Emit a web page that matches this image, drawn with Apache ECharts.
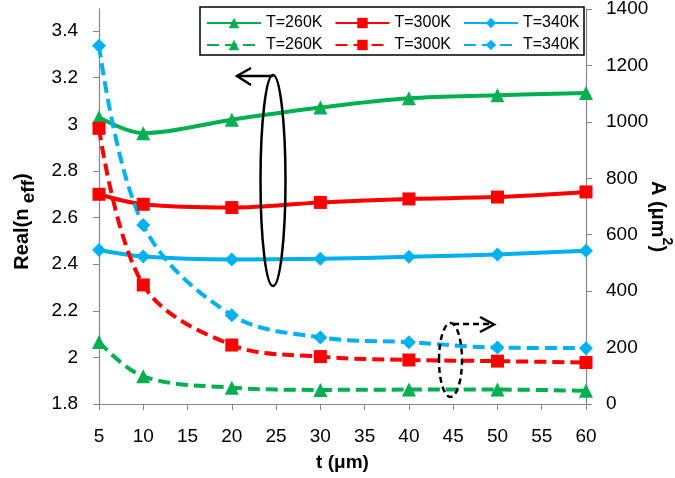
<!DOCTYPE html>
<html>
<head>
<meta charset="utf-8">
<script src="https://cdn.jsdelivr.net/npm/echarts@6/dist/echarts.min.js"></script>
<style>html,body{margin:0;padding:0;background:#fff;}#c{width:675px;height:478px;}</style>
</head>
<body>
<div id="c"></div>
<script>
// ---- data ----
const tValues = [5, 10, 20, 30, 40, 50, 60];
const tempLabels = ['T=260K', 'T=300K', 'T=340K'];
const nEff260 = [3.03, 2.962, 3.02, 3.072, 3.112, 3.125, 3.135];
const nEff300 = [2.70, 2.657, 2.643, 2.665, 2.68, 2.688, 2.71];
const nEff340 = [2.461, 2.433, 2.42, 2.423, 2.432, 2.442, 2.458];
const area260 = [220, 98, 58, 50, 51, 51, 47];
const area300 = [977, 422, 209, 168, 156, 152, 147];
const area340 = [1270, 634, 315, 236, 219, 200, 198];
const leftTicks = [1.8, 2, 2.2, 2.4, 2.6, 2.8, 3, 3.2, 3.4];
const xTickStep = 5;
const rightTickStep = 200;

const FONT = 'Liberation Sans';
const colors = ['#00B050', '#FF0000', '#00B0F0'];
const symbols = ['triangle', 'rect', 'diamond'];
const symSizes = [14, 13, 14];

function pairs(vals) { return tValues.map((t, i) => [t, vals[i]]); }

const nSets = [nEff260, nEff300, nEff340];
const aSets = [area260, area300, area340];

const series = [];
nSets.forEach((v, i) => {
  series.push({
    name: 'n ' + tempLabels[i], type: 'line', yAxisIndex: 0, data: pairs(v),
    smooth: 0.35, symbol: symbols[i], symbolSize: symSizes[i],
    lineStyle: { color: colors[i], width: 4 }, itemStyle: { color: colors[i] }
  });
});
aSets.forEach((v, i) => {
  series.push({
    name: 'A ' + tempLabels[i], type: 'line', yAxisIndex: 1, data: pairs(v),
    smooth: 0.35, symbol: symbols[i], symbolSize: symSizes[i],
    lineStyle: { color: colors[i], width: 4, type: [12, 6] }, itemStyle: { color: colors[i] }
  });
});

const axisLineStyle = { lineStyle: { color: '#868686', width: 1.2 } };
const tickLbl = { fontFamily: FONT, fontSize: 19, color: '#000' };
const legendCommon = {
  padding: 0, itemWidth: 54, itemHeight: 13, itemGap: 12,
  textStyle: { fontFamily: FONT, fontSize: 16, color: '#000' },
  formatter: name => name.slice(2), selectedMode: false
};

const chart = echarts.init(document.getElementById('c'), null, { renderer: 'canvas' });
chart.setOption({
  animation: false,
  backgroundColor: '#fff',
  grid: { left: 99, right: 89, top: 9, bottom: 74, containLabel: false, outerBoundsMode: 'none' },
  legend: [
    Object.assign({ left: 206, top: 15, data: tempLabels.map(t => 'n ' + t) }, legendCommon),
    Object.assign({ left: 206, top: 37, data: tempLabels.map(t => 'A ' + t) }, legendCommon)
  ],
  xAxis: {
    type: 'value', min: 5, max: 60, interval: xTickStep,
    axisLine: axisLineStyle, splitLine: { show: false },
    axisTick: { show: true, length: 6, lineStyle: { color: '#868686' } },
    axisLabel: Object.assign({ margin: 23 }, tickLbl),
    name: 't (μm)', nameLocation: 'middle', nameGap: 49, nameMoveOverlap: false,
    nameTextStyle: { fontFamily: FONT, fontSize: 19, fontWeight: 'bold', color: '#000' }
  },
  yAxis: [
    {
      type: 'value', min: 1.8, max: 3.495, position: 'left',
      axisLine: Object.assign({ show: true }, axisLineStyle), splitLine: { show: false },
      axisTick: { show: true, length: 6, lineStyle: { color: '#868686' }, customValues: leftTicks },
      axisLabel: Object.assign({ margin: 21, customValues: leftTicks, formatter: v => String(+v.toFixed(1)) }, tickLbl),
      name: '{m|Real(n}{s| eff}{e|)}', nameLocation: 'middle', nameRotate: 90, nameGap: 64, nameMoveOverlap: false,
      nameTextStyle: {
        rich: {
          m: { fontFamily: FONT, fontSize: 20, fontWeight: 'bold', color: '#000', lineHeight: 23, verticalAlign: 'top' },
          s: { fontFamily: FONT, fontSize: 19, fontWeight: 'bold', color: '#000', lineHeight: 23, verticalAlign: 'top', padding: [7, 0, 0, 0] },
          e: { fontFamily: FONT, fontSize: 20, fontWeight: 'bold', color: '#000', lineHeight: 23, verticalAlign: 'top', padding: [0, 30, 0, 0] }
        }
      }
    },
    {
      type: 'value', min: 0, max: 1400, interval: rightTickStep, position: 'right',
      axisLine: Object.assign({ show: true }, axisLineStyle), splitLine: { show: false },
      axisTick: { show: true, length: 6, lineStyle: { color: '#868686' } },
      axisLabel: Object.assign({ margin: 20, formatter: v => String(v) }, tickLbl),
      name: '{b|A (μm}{p|2}{m|)}', nameLocation: 'middle', nameRotate: -90, nameGap: 62, nameMoveOverlap: false,
      nameTextStyle: {
        rich: {
          b: { fontFamily: FONT, fontSize: 20, fontWeight: 'bold', color: '#000', lineHeight: 26, verticalAlign: 'bottom', padding: [0, 0, 0, 20] },
          p: { fontFamily: FONT, fontSize: 14, fontWeight: 'bold', color: '#000', lineHeight: 16, verticalAlign: 'top' },
          m: { fontFamily: FONT, fontSize: 20, fontWeight: 'bold', color: '#000', lineHeight: 26, verticalAlign: 'bottom' }
        }
      }
    }
  ],
  series: series,
  graphic: [
    { type: 'rect', shape: { x: 200, y: 7, width: 384, height: 48 }, style: { fill: 'none', stroke: '#000', lineWidth: 1.5 }, z: 1 },
    { type: 'ellipse', shape: { cx: 273, cy: 180.5, rx: 12.5, ry: 105.5 }, style: { fill: 'none', stroke: '#000', lineWidth: 2.5 }, z: 100 },
    { type: 'polyline', shape: { points: [[273, 76], [237, 76]] }, style: { fill: 'none', stroke: '#000', lineWidth: 2.5 }, z: 100 },
    { type: 'polyline', shape: { points: [[251, 68], [237, 76], [251, 85]] }, style: { fill: 'none', stroke: '#000', lineWidth: 2.5 }, z: 100 },
    { type: 'ellipse', shape: { cx: 450.5, cy: 360, rx: 11.5, ry: 37 }, style: { fill: 'none', stroke: '#000', lineWidth: 2.5, lineDash: [6, 4] }, z: 100 },
    { type: 'polyline', shape: { points: [[453, 324], [493, 324]] }, style: { fill: 'none', stroke: '#000', lineWidth: 2.5, lineDash: [6, 4] }, z: 100 },
    { type: 'polyline', shape: { points: [[480, 317], [494, 324.5], [480, 332]] }, style: { fill: 'none', stroke: '#000', lineWidth: 2.5 }, z: 100 }
  ]
});
</script>
</body>
</html>
